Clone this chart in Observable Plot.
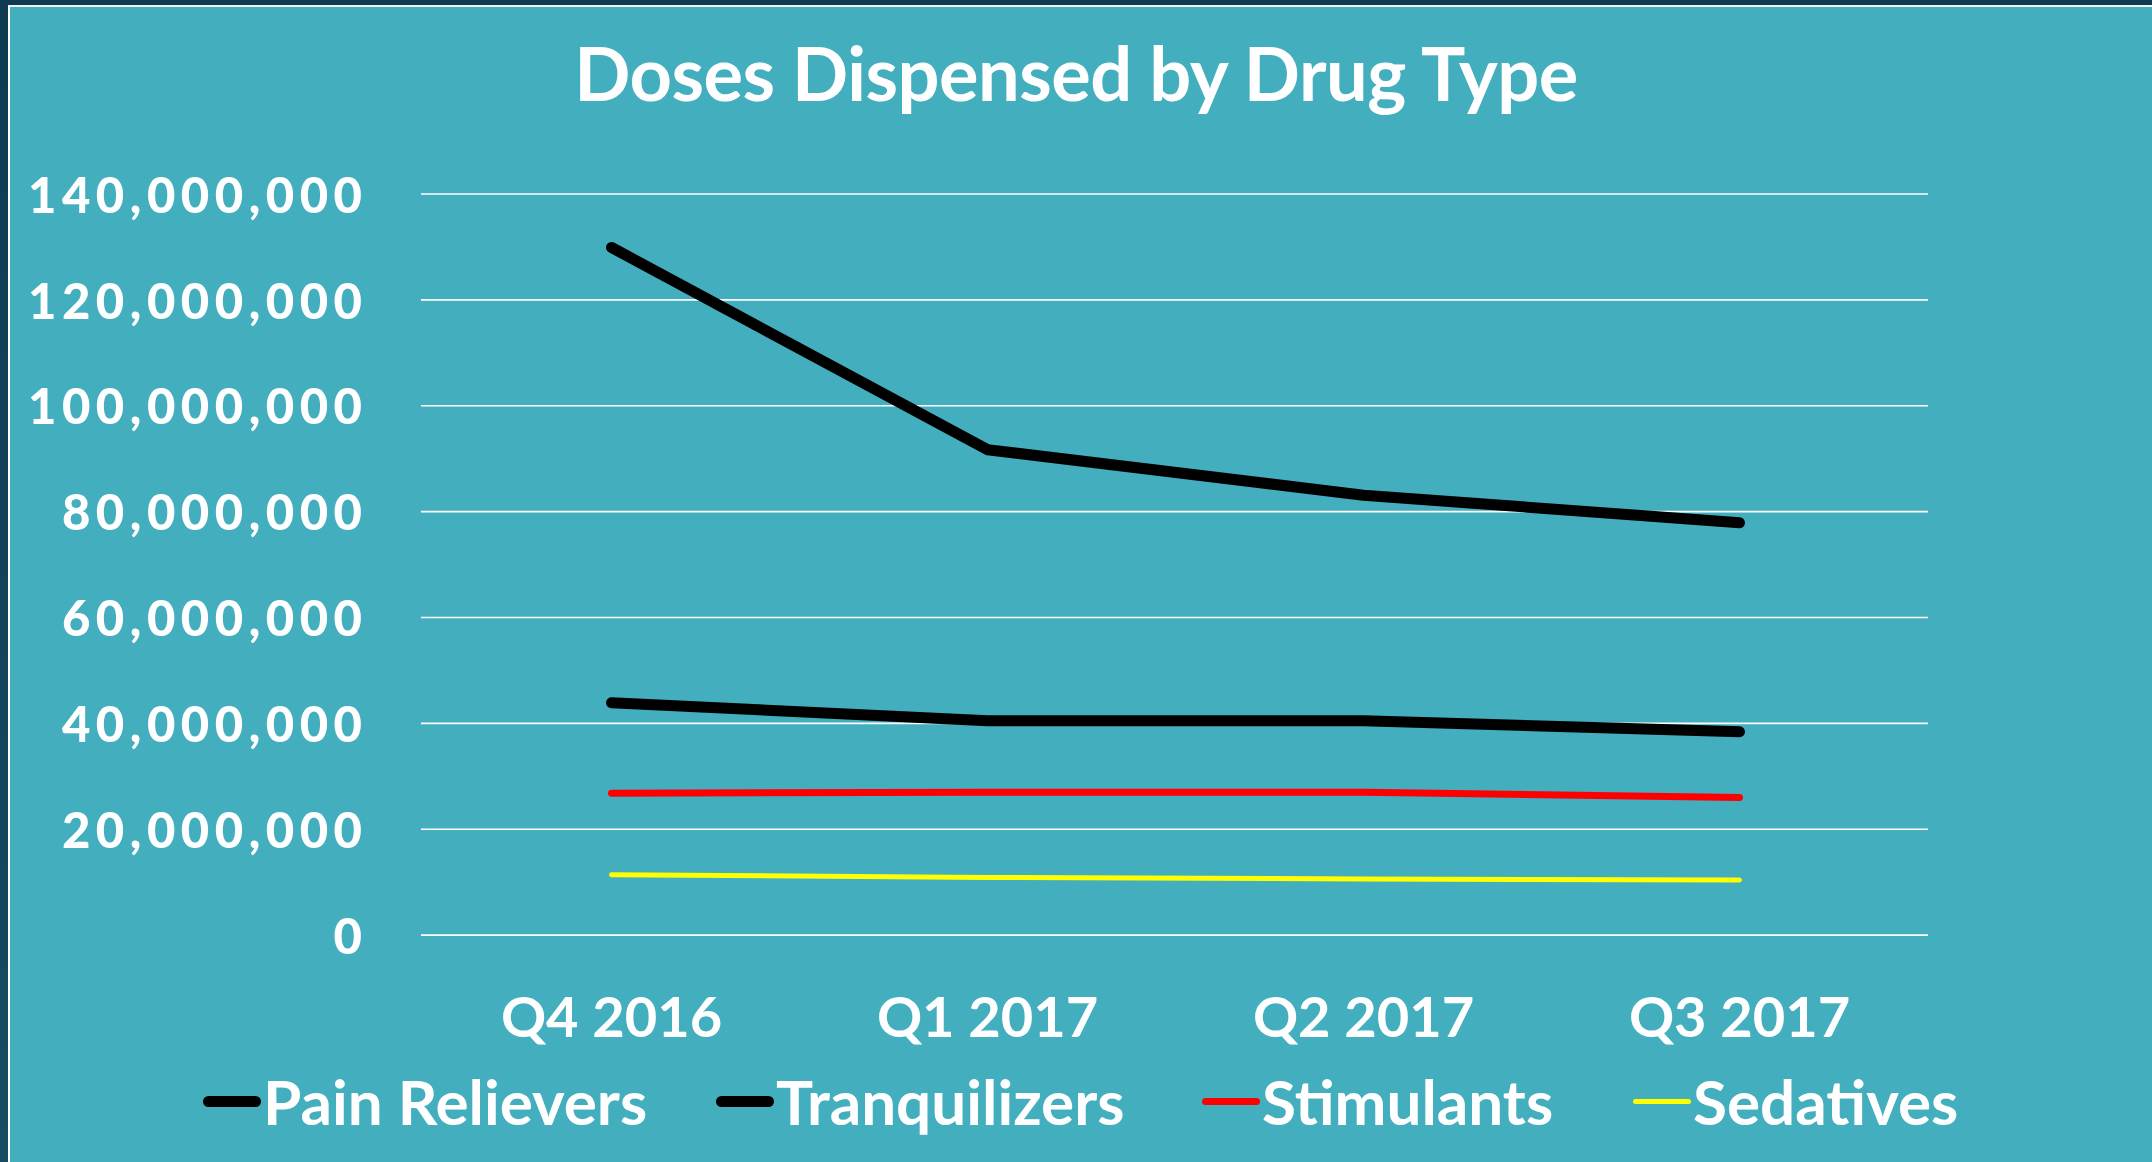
<!DOCTYPE html>
<html>
<head>
<meta charset="utf-8">
<script src="https://cdn.jsdelivr.net/npm/d3@7"></script>
<script src="https://cdn.jsdelivr.net/npm/@observablehq/plot@0.6"></script>
<style>
  html, body { margin: 0; padding: 0; }
  body { width: 2152px; height: 1162px; overflow: hidden; background: linear-gradient(180deg, #0e3a52, #174c63); position: relative; font-family: Lato, "Open Sans", sans-serif; }
  #panel { position: absolute; left: 8px; top: 5px; right: 0; bottom: 0; background: #42aebe; border-left: 2px solid #ffffff; border-top: 2px solid #e8f4f6; }
  #title { position: absolute; left: 0; width: 2152px; top: 28px; text-align: center; color: #fff; font-weight: 700; font-size: 74px; line-height: 90px; letter-spacing: -0.5px; }
  #chart { position: absolute; left: 0; top: 140px; }
  #legend { position: absolute; left: 0; top: 1066px; width: 2152px; height: 70px; }
  .item { position: absolute; top: 0; height: 70px; display: flex; align-items: center; color: #fff; font-weight: 700; font-size: 62px; }
  .sw { display: inline-block; width: 58px; border-radius: 6px; margin-right: 2px; }
  #chart svg [aria-label="y-axis tick label"] text { font-size: 49px; letter-spacing: 5.5px; font-weight: 900; }
  #chart svg [aria-label="x-axis tick label"] text { font-size: 56px; font-weight: 700; }
</style>
</head>
<body>
<div id="panel"></div>
<div id="title">Doses Dispensed by Drug Type</div>
<div id="chart"></div>
<div id="legend"></div>
<script>
const quarters = ["Q4 2016", "Q1 2017", "Q2 2017", "Q3 2017"];
const seriesNames = ["Pain Relievers", "Tranquilizers", "Stimulants", "Sedatives"];
const painRelievers = [129900000, 91700000, 83100000, 77900000];
const tranquilizers = [43900000, 40500000, 40500000, 38400000];
const stimulants = [26800000, 27000000, 27000000, 26000000];
const sedatives = [11400000, 10900000, 10600000, 10400000];
const seriesColors = ["#000000", "#000000", "#ff0000", "#ffff00"];
const seriesWidths = [11, 11, 7, 5];
const yTicks = [0, 20000000, 40000000, 60000000, 80000000, 100000000, 120000000, 140000000];

const valuesBySeries = [painRelievers, tranquilizers, stimulants, sedatives];
const data = seriesNames.flatMap((s, i) => quarters.map((q, j) => ({series: s, quarter: q, value: valuesBySeries[i][j]})));

const chart = Plot.plot({
  width: 2152,
  height: 930,
  marginLeft: 421,
  marginRight: 224,
  marginTop: 53.5,
  marginBottom: 135.4,
  style: {background: "transparent", color: "#ffffff", fontFamily: "Lato, 'Open Sans', sans-serif", fontWeight: "700", overflow: "visible"},
  x: {type: "point", domain: quarters, padding: 0.5, label: null},
  y: {domain: [0, 140000000], label: null},
  marks: [
    Plot.ruleY(yTicks, {stroke: "#ffffff", strokeWidth: 1.6}),
    Plot.axisY({ticks: yTicks, tickSize: 0, tickPadding: 54, tickFormat: d3.format(","), label: null, fontSize: 49, fontWeight: 900, dy: 3}),
    Plot.axisX({tickSize: 0, tickPadding: 62, label: null, fontSize: 56, fontWeight: 700}),
    ...seriesNames.map((s, i) => Plot.line(data.filter(d => d.series === s), {
      x: "quarter", y: "value", stroke: seriesColors[i], strokeWidth: seriesWidths[i], strokeLinecap: "round", strokeLinejoin: "round"
    }))
  ]
});
document.getElementById("chart").appendChild(chart);

const legendX = [203, 716, 1202, 1633];
const legend = document.getElementById("legend");
seriesNames.forEach((s, i) => {
  const item = document.createElement("div");
  item.className = "item";
  item.style.left = legendX[i] + "px";
  const sw = document.createElement("span");
  sw.className = "sw";
  sw.style.height = seriesWidths[i] + "px";
  sw.style.background = seriesColors[i];
  const t = document.createElement("span");
  t.textContent = s;
  item.appendChild(sw);
  item.appendChild(t);
  legend.appendChild(item);
});
</script>
</body>
</html>
